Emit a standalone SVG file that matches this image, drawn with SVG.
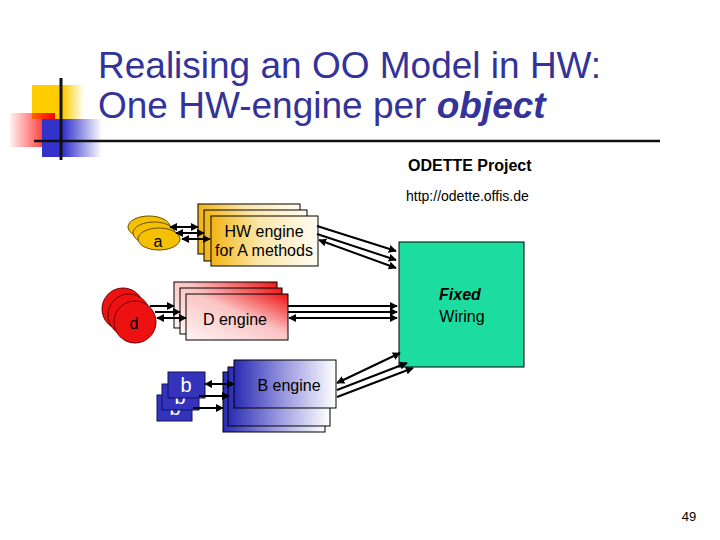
<svg xmlns="http://www.w3.org/2000/svg" width="720" height="540" viewBox="0 0 720 540">
<defs>
<style>
.t{font-family:"Liberation Sans","DejaVu Sans",sans-serif;}
.title{font-family:"Liberation Sans",sans-serif;font-size:37px;fill:#333399;}
.eng{font-family:"Liberation Sans",sans-serif;font-size:16px;fill:#000;text-anchor:middle;}
.bt{font-family:"Liberation Sans",sans-serif;font-size:20px;fill:#fff;text-anchor:middle;}
.ln{stroke:#000;stroke-width:2;fill:none;}
.box{stroke:#000;stroke-width:1;}
.brect{fill:#3333bb;stroke:#111166;}
</style>
<marker id="ah" viewBox="0 0 10 10" refX="9" refY="5" markerWidth="4" markerHeight="4" orient="auto-start-reverse" markerUnits="strokeWidth">
<path d="M0,0 L10,5 L0,10 z" fill="#000"/>
</marker>
<linearGradient id="gY" x1="0" y1="0" x2="1" y2="0">
<stop offset="0" stop-color="#ffcc00"/><stop offset="0.6" stop-color="#ffcc00"/><stop offset="1" stop-color="#ffcc00" stop-opacity="0"/>
</linearGradient>
<linearGradient id="gR" x1="0" y1="0" x2="1" y2="0">
<stop offset="0" stop-color="#ff0000" stop-opacity="0.05"/><stop offset="1" stop-color="#ff0000"/>
</linearGradient>
<linearGradient id="gB" x1="0" y1="0" x2="1" y2="0">
<stop offset="0" stop-color="#3333cc"/><stop offset="0.35" stop-color="#3333cc"/><stop offset="1" stop-color="#3333cc" stop-opacity="0"/>
</linearGradient>
<linearGradient id="gA" x1="0" y1="0" x2="1" y2="0">
<stop offset="0" stop-color="#f2b414"/><stop offset="0.45" stop-color="#fbe6a8"/><stop offset="1" stop-color="#fffcf2"/>
</linearGradient>
<linearGradient id="gD" x1="0" y1="1" x2="1" y2="0">
<stop offset="0" stop-color="#fff4f4"/><stop offset="0.55" stop-color="#fbc4c4"/><stop offset="1" stop-color="#ee1111"/>
</linearGradient>
<linearGradient id="gBE" x1="0" y1="0" x2="1" y2="0">
<stop offset="0" stop-color="#2a2ab4"/><stop offset="0.5" stop-color="#9a9ae0"/><stop offset="1" stop-color="#ffffff"/>
</linearGradient>
</defs>

<g id="logo">
<rect x="32" y="85" width="52" height="34" fill="url(#gY)"/>
<rect x="10" y="113" width="45" height="34" fill="url(#gR)"/>
<rect x="42" y="119" width="60" height="38" fill="url(#gB)"/>
<line x1="61" y1="78" x2="61" y2="160" stroke="#111" stroke-width="3"/>
<line x1="34" y1="141" x2="660" y2="141" stroke="#111" stroke-width="2.5"/>
</g>

<g id="title">
<text class="title" x="98" y="78">Realising an OO Model in HW:</text>
<text class="title" x="98" y="118">One HW-engine per <tspan font-weight="bold" font-style="italic">object</tspan></text>
</g>

<g id="project">
<text class="t" x="408" y="171" font-size="16" font-weight="bold" fill="#000">ODETTE Project</text>
<text class="t" x="406" y="201" font-size="14" fill="#000">http://odette.offis.de</text>
</g>

<g id="a-objects">
<ellipse cx="149" cy="227" rx="21" ry="11" fill="#f5c000" stroke="#6a5000"/>
<ellipse cx="154" cy="233" rx="21" ry="11" fill="#f5c000" stroke="#6a5000"/>
<ellipse cx="159" cy="239" rx="21" ry="11" fill="#f5c000" stroke="#6a5000"/>
<text class="eng" x="158" y="247" font-size="17">a</text>
</g>

<g id="a-engine">
<rect class="box" x="198" y="204" width="102" height="50" fill="url(#gA)"/>
<rect class="box" x="204" y="210" width="103" height="51" fill="url(#gA)"/>
<rect class="box" x="211" y="216" width="107" height="50" fill="url(#gA)"/>
<text class="eng" x="264" y="237" font-size="15">HW engine</text>
<text class="eng" x="264" y="256" font-size="15">for A methods</text>
</g>

<g id="d-objects">
<circle cx="123" cy="309" r="21" fill="#ee1111" stroke="#700000"/>
<circle cx="129" cy="315" r="21" fill="#ee1111" stroke="#700000"/>
<circle cx="135" cy="322" r="21" fill="#ee1111" stroke="#700000"/>
<text class="eng" x="134" y="329" font-size="18">d</text>
</g>

<g id="d-engine">
<rect class="box" x="174" y="282" width="103" height="46" fill="url(#gD)"/>
<rect class="box" x="180" y="288" width="102" height="46" fill="url(#gD)"/>
<rect class="box" x="186" y="294" width="102" height="46" fill="url(#gD)"/>
<text class="eng" x="235" y="325" font-size="16">D engine</text>
</g>

<g id="b-objects">
<rect class="brect" x="157" y="395" width="35" height="26"/>
<text class="bt" x="175" y="415">b</text>
<rect class="brect" x="162" y="384" width="37" height="26"/>
<text class="bt" x="180" y="404">b</text>
<rect class="brect" x="168" y="372" width="37" height="26"/>
<text class="bt" x="186" y="392">b</text>
</g>

<g id="b-engine">
<rect class="box" x="223" y="372" width="102" height="60" fill="url(#gBE)"/>
<rect class="box" x="228" y="367" width="102" height="59" fill="url(#gBE)"/>
<rect class="box" x="234" y="360" width="102" height="48" fill="url(#gBE)"/>
<text class="eng" x="289" y="391" font-size="16">B engine</text>
</g>

<g id="fixed-wiring">
<rect x="399" y="242" width="125" height="125" fill="#1ddc9f" stroke="#000"/>
<text class="eng" x="460" y="300" font-size="17" font-weight="bold" font-style="italic">Fixed</text>
<text class="eng" x="462" y="322" font-size="17">Wiring</text>
</g>

<g id="connectors">
<line class="ln" x1="170" y1="227" x2="198" y2="227" marker-start="url(#ah)" marker-end="url(#ah)"/>
<line class="ln" x1="176" y1="233" x2="204" y2="233" marker-start="url(#ah)" marker-end="url(#ah)"/>
<line class="ln" x1="182" y1="239" x2="210" y2="239" marker-start="url(#ah)" marker-end="url(#ah)"/>

<line class="ln" x1="317" y1="226" x2="396" y2="251" marker-end="url(#ah)"/>
<line class="ln" x1="317" y1="234" x2="396" y2="260" marker-end="url(#ah)"/>
<line class="ln" x1="319" y1="240" x2="396" y2="268" marker-start="url(#ah)" marker-end="url(#ah)"/>

<line class="ln" x1="150" y1="306" x2="174" y2="306" marker-end="url(#ah)"/>
<line class="ln" x1="155" y1="312" x2="180" y2="312" marker-end="url(#ah)"/>
<line class="ln" x1="157" y1="318" x2="186" y2="318" marker-start="url(#ah)" marker-end="url(#ah)"/>

<line class="ln" x1="288" y1="306" x2="397" y2="306" marker-end="url(#ah)"/>
<line class="ln" x1="288" y1="312" x2="397" y2="312" marker-end="url(#ah)"/>
<line class="ln" x1="289" y1="318" x2="397" y2="318" marker-start="url(#ah)" marker-end="url(#ah)"/>

<line class="ln" x1="205" y1="384" x2="234" y2="384" marker-start="url(#ah)" marker-end="url(#ah)"/>
<line class="ln" x1="199" y1="396" x2="229" y2="396" marker-end="url(#ah)"/>
<line class="ln" x1="193" y1="408" x2="223" y2="408" marker-end="url(#ah)"/>

<line class="ln" x1="337" y1="383" x2="400" y2="353" marker-start="url(#ah)" marker-end="url(#ah)"/>
<line class="ln" x1="337" y1="390" x2="407" y2="363" marker-end="url(#ah)"/>
<line class="ln" x1="337" y1="397" x2="413" y2="368" marker-end="url(#ah)"/>
</g>

<g id="page-number">
<text class="t" x="689" y="521" font-size="13" text-anchor="middle" fill="#000">49</text>
</g>
</svg>
